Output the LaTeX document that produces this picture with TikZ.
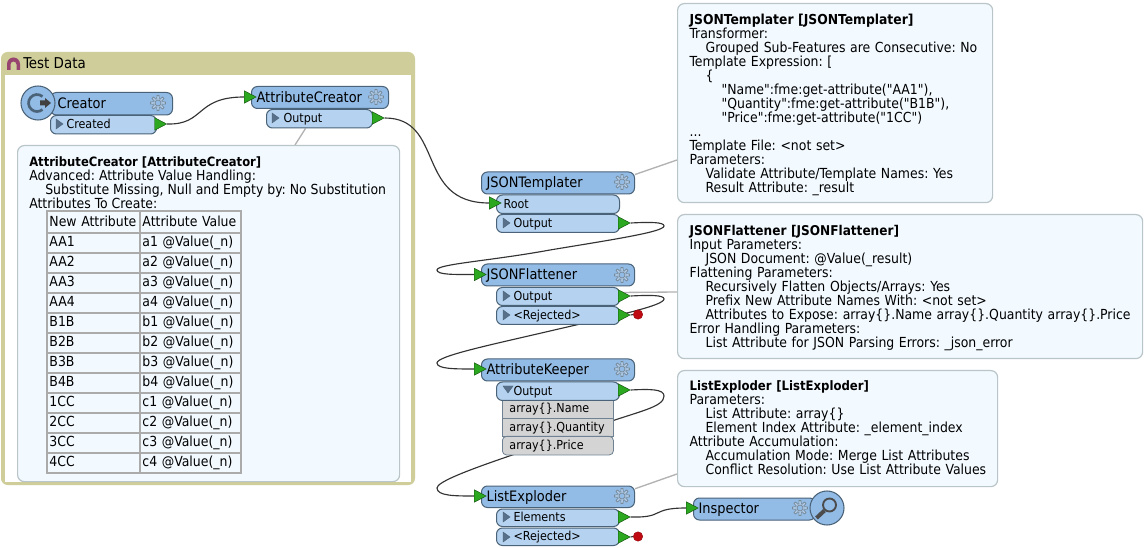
\documentclass[tikz,border=0pt]{standalone}
\usepackage{fontspec}
\setmainfont[Ligatures=TeXOff]{DejaVu Sans Condensed}
\usetikzlibrary{shapes.geometric,arrows.meta}
\pgfdeclarelayer{base}
\pgfdeclarelayer{wires}
\pgfsetlayers{base,wires,main}
\definecolor{hdrblue}{HTML}{92BBE6}
\definecolor{portblue}{HTML}{B5D3F0}
\definecolor{edgeblue}{HTML}{4A6378}
\definecolor{notefill}{HTML}{F3FAFF}
\definecolor{noteedge}{HTML}{B9C5C9}
\definecolor{olive}{HTML}{CFCE9A}
\definecolor{portgreen}{HTML}{2BA81F}
\definecolor{stopred}{HTML}{C00A12}
\newcommand{\notefont}{\fontsize{10.4}{10.5}\selectfont}
\newcommand{\notehead}[2][9.65]{\rule{0pt}{10.2pt}{\fontsize{#1}{10.5}\selectfont\bfseries #2}}
\tikzset{
  hdrbox/.style={draw=edgeblue,fill=hdrblue,line width=0.75pt,rounded corners=4.5pt,inner sep=0pt,align=left,
    font=\fontsize{10.8}{11}\selectfont,text height=8.4pt,text depth=1.6pt},
  portbox/.style={draw=edgeblue,fill=portblue,line width=0.75pt,rounded corners=4.5pt,inner sep=0pt,align=left,
    font=\fontsize{9.3}{9.3}\selectfont,text height=7.4pt,text depth=1.6pt},
  attrbox/.style={draw=edgeblue!80,fill=black!17,line width=0.6pt,inner sep=0pt,align=left,
    font=\fontsize{9.3}{9.3}\selectfont,text height=7.4pt,text depth=1.6pt},
  notebox/.style={draw=noteedge,fill=notefill,line width=0.9pt,rounded corners=5pt,inner sep=0pt,align=left,
    font=\notefont},
  cellbox/.style={draw=black!33,line width=1.2pt,inner sep=0pt,align=left,
    font=\notefont,text height=7.6pt,text depth=1.4pt},
  porttip/.style={isosceles triangle,isosceles triangle stretches,shape border rotate=0,draw=black!55!portgreen,
    line width=0.3pt,fill=portgreen,inner sep=0pt,minimum width=9.4pt,minimum height=9pt},
  stopdot/.style={circle,fill=stopred,draw=stopred!80!black,inner sep=0pt,minimum size=7pt},
  wire/.style={draw=black!80,line width=0.85pt},
  leader/.style={draw=black!30,line width=1pt},
  bigdisc/.style={circle,draw=edgeblue,fill=hdrblue,line width=0.8pt,inner sep=0pt,minimum size=25.5pt},
  expander/.style={fill=black!40!hdrblue,draw=edgeblue,line width=0.3pt}
}
% box with fixed pixel corners; the text starts at a given padding from its left side
\newcommand{\pxbox}[8][]{%
  \pgfmathsetmacro\boxw{(#6-#4)*0.75}\pgfmathsetmacro\boxh{(#7-#5)*0.75}%
  \node[#2,#1,anchor=north west,minimum width=\boxw pt,minimum height=\boxh pt,text width=\boxw pt] (#3) at (#4,#5) {#8};}
% settings wheel drawn from a radial profile
\newcommand{\wheel}[2]{%
  \draw[edgeblue!75,line width=0.55pt,fill=hdrblue!70!white] plot[domain=0:360,samples=97] ({#1+(5.9+1.6*max(-1,min(1,2*cos(8*\x))))*cos(\x)},{#2+(5.9+1.6*max(-1,min(1,2*cos(8*\x))))*sin(\x)}) -- cycle;
  \draw[edgeblue!75,line width=0.55pt,fill=hdrblue] (#1,#2) circle[radius=3];}
% closed or open marker in an output port
\newcommand{\closedmark}[2]{\path[expander] (#1,#2-5) -- (#1+7,#2) -- (#1,#2+5) -- cycle;}
\newcommand{\openmark}[2]{\path[expander] (#1-1,#2-4) -- (#1+9,#2-4) -- (#1+4,#2+3) -- cycle;}
\begin{document}
\frenchspacing
\begin{tikzpicture}[x=0.75pt,y=-0.75pt]
\useasboundingbox (0,0) rectangle (1145,548);

% bookmark frame
\begin{pgfonlayer}{base}
  \fill[white] (0,0) rectangle (1145,548);
  \fill[olive,rounded corners=5pt] (1,52) rectangle (415,485);
  \fill[white] (4.5,75) rectangle (411,481.5);
\end{pgfonlayer}
\node[anchor=west,inner sep=0pt,font=\fontsize{11.2}{11}\selectfont] (bmtitle) at (23,63.5) {Test Data};
\fill[black!45!magenta] (7,70) -- (7,64) arc[start angle=180,end angle=360,radius=6.5] -- (20,70) -- (16.5,70) -- (16.5,64.5) arc[start angle=360,end angle=180,radius=3] -- (10.5,70) -- cycle;

% Creator
\pxbox{hdrbox}{creator}{50}{92}{172}{114.5}{\hspace*{5.3pt}Creator}
\pxbox{portbox}{created}{50}{115}{156}{133.5}{\hspace*{12pt}Created}
\node[porttip] (createdtip) at (158.5,124) {};
\closedmark{56}{124}
\wheel{158}{103}
\node[bigdisc] (creatordisc) at (38,103) {};
\draw[edgeblue,line width=2pt] (42.5,96.5) arc[start angle=-50,end angle=-310,radius=8.5];
\fill[black!75] (40,100.5) -- (45,100.5) -- (45,98) -- (51,103) -- (45,108) -- (45,105.5) -- (40,105.5) -- cycle;

% AttributeCreator
\pxbox{hdrbox}{ac}{251}{86}{388}{108}{\hspace*{3.8pt}AttributeCreator}
\node[porttip] (acin) at (248,97) {};
\pxbox{portbox}{acout}{266}{109}{372}{127.5}{\hspace*{12.8pt}Output}
\node[porttip] (acouttip) at (376,118) {};
\closedmark{272}{118}
\wheel{376}{97}

% JSONTemplater
\pxbox{hdrbox}{jt}{481}{171.5}{634}{193.5}{\hspace*{3.8pt}JSONTemplater}
\pxbox{portbox}{jtroot}{496}{194.5}{619}{213}{\hspace*{5.3pt}Root}
\pxbox{portbox}{jtout}{496}{214}{619}{232}{\hspace*{12.8pt}Output}
\node[porttip] (jtin) at (493,203) {};
\node[porttip] (jtouttip) at (622,223) {};
\closedmark{503}{223}
\wheel{622}{182}

% JSONFlattener
\pxbox{hdrbox}{jf}{481}{263.5}{634}{285.5}{\hspace*{3.8pt}JSONFlattener}
\pxbox{portbox}{jfout}{496}{287}{619}{305}{\hspace*{12.8pt}Output}
\pxbox{portbox}{jfrej}{496}{306}{619}{324}{\hspace*{12.8pt}<Rejected>}
\node[porttip] (jfin) at (478,274.5) {};
\node[porttip] (jfouttip) at (622,296) {};
\node[porttip] (jfrejtip) at (622,315) {};
\node[stopdot] (jfstop) at (638,314.5) {};
\closedmark{503}{296}
\closedmark{503}{315}
\wheel{622}{275}

% AttributeKeeper
\pxbox{attrbox}{rowa}{502}{399}{613}{418}{\hspace*{5.3pt}array\{\}.Name}
\pxbox{attrbox}{rowb}{502}{418}{613}{436}{\hspace*{5.3pt}array\{\}.Quantity}
\pxbox[rounded corners=3pt]{attrbox}{rowc}{502}{436}{613}{454.5}{\hspace*{5.3pt}array\{\}.Price}
\pxbox{hdrbox}{ak}{481}{358.5}{634}{380.5}{\hspace*{3.8pt}AttributeKeeper}
\pxbox{portbox}{akout}{496}{381.5}{619}{400}{\hspace*{12.8pt}Output}
\node[porttip] (akin) at (478,369) {};
\node[porttip] (akouttip) at (622,390) {};
\openmark{504}{390}
\wheel{622}{369}

% ListExploder
\pxbox{hdrbox}{le}{481}{485.5}{634}{507}{\hspace*{3.8pt}ListExploder}
\pxbox{portbox}{leel}{496}{508.5}{619}{526}{\hspace*{12.8pt}Elements}
\pxbox{portbox}{lerej}{496}{527.5}{619}{545}{\hspace*{12.8pt}<Rejected>}
\node[porttip] (lein) at (478,496) {};
\node[porttip] (leeltip) at (622,517) {};
\node[porttip] (lerejtip) at (622,537) {};
\node[stopdot] (lestop) at (638,536.5) {};
\closedmark{503}{517}
\closedmark{503}{537}
\wheel{622}{496}

% Inspector
\pxbox{hdrbox}{insp}{693}{497.5}{815}{519.5}{\hspace*{3.8pt}Inspector}
\node[porttip] (inspin) at (690,508) {};
\wheel{800}{508}
\node[bigdisc] (inspdisc) at (827,508) {};
\draw[black!70,line width=1.4pt] (829.5,505) circle[radius=6.5];
\draw[black!70,line width=3pt] (824.5,510.5) -- (816.5,518);

% annotation boxes
\pxbox{notebox}{notecreator}{17}{145}{399}{481}{}
\node[anchor=north west,inner sep=0pt,align=left,font=\notefont] (notecreatortext) at (29,153) {%
  \notehead{AttributeCreator [AttributeCreator]}\\
  Advanced: Attribute Value Handling:\\
  \hspace*{12pt}Substitute Missing, Null and Empty by: No Substitution\\
  Attributes To Create:};
\pxbox{cellbox}{headname}{46}{210.5}{139}{232}{\hspace*{2pt}New Attribute}
\pxbox{cellbox}{headvalue}{139}{210.5}{240}{232}{\hspace*{2pt}Attribute Value}
\foreach \nm/\val [count=\i] in {AA1/a1,AA2/a2,AA3/a3,AA4/a4,B1B/b1,B2B/b2,B3B/b3,B4B/b4,1CC/c1,2CC/c2,3CC/c3,4CC/c4}{
  \pgfmathsetmacro\rowtop{232+(\i-1)*20}
  \pgfmathsetmacro\rowbot{232+\i*20}
  \pxbox{cellbox}{cellname\i}{46}{\rowtop}{139}{\rowbot}{\hspace*{2pt}\nm}
  \pxbox{cellbox}{cellvalue\i}{139}{\rowtop}{240}{\rowbot}{\hspace*{2pt}\val{} @Value(\_n)}
}

\pxbox{notebox}{notetemplater}{677}{3}{992}{202}{%
  \hspace*{9pt}\notehead[10.3]{JSONTemplater [JSONTemplater]}\\
  \hspace*{9pt}Transformer:\\
  \hspace*{21pt}Grouped Sub-Features are Consecutive: No\\
  \hspace*{9pt}Template Expression: [\\
  \hspace*{21pt}\{\\
  \hspace*{33pt}"Name":fme:get-attribute("AA1"),\\
  \hspace*{33pt}"Quantity":fme:get-attribute("B1B"),\\
  \hspace*{33pt}"Price":fme:get-attribute("1CC")\\
  \hspace*{9pt}...\\
  \hspace*{9pt}Template File: <not set>\\
  \hspace*{9pt}Parameters:\\
  \hspace*{21pt}Validate Attribute/Template Names: Yes\\
  \hspace*{21pt}Result Attribute: \_result}

\pxbox{notebox}{noteflattener}{677}{214}{1142}{358}{%
  \hspace*{9pt}\notehead[10.1]{JSONFlattener [JSONFlattener]}\\
  \hspace*{9pt}Input Parameters:\\
  \hspace*{21pt}JSON Document: @Value(\_result)\\
  \hspace*{9pt}Flattening Parameters:\\
  \hspace*{21pt}Recursively Flatten Objects/Arrays: Yes\\
  \hspace*{21pt}Prefix New Attribute Names With: <not set>\\
  \hspace*{21pt}Attributes to Expose: array\{\}.Name array\{\}.Quantity array\{\}.Price\\
  \hspace*{9pt}Error Handling Parameters:\\
  \hspace*{21pt}List Attribute for JSON Parsing Errors: \_json\_error}

\pxbox{notebox}{noteexploder}{677}{370}{997}{486}{%
  \hspace*{9pt}\notehead[9.75]{ListExploder [ListExploder]}\\
  \hspace*{9pt}Parameters:\\
  \hspace*{21pt}List Attribute: array\{\}\\
  \hspace*{21pt}Element Index Attribute: \_element\_index\\
  \hspace*{9pt}Attribute Accumulation:\\
  \hspace*{21pt}Accumulation Mode: Merge List Attributes\\
  \hspace*{21pt}Conflict Resolution: Use List Attribute Values\rule[-5pt]{0pt}{5pt}}

% connectors and annotation leaders, beneath the boxes
\begin{pgfonlayer}{wires}
  \draw[leader] (acout.south) ++(-14,0) -- (notecreator.north -| 295,0);
  \draw[leader] (jt.north east) ++(0,3) -- (notetemplater.west |- 0,160);
  \draw[leader] (jfout.east) ++(0,-4) -- (noteflattener.west |- 0,292);
  \draw[leader] (le.east) ++(0,-8) -- (noteexploder.west |- 0,474);
  \draw[wire] (createdtip.east) .. controls (205,125) and (195,97) .. (acin.west);
  \draw[wire] (acouttip.east) .. controls (445,118) and (415,203) .. (jtin.west);
  \draw[wire] (jtouttip.east) .. controls (650,222) and (664,222) .. (664,226)
     .. controls (664,232) and (610,240) .. (550,250)
     .. controls (490,261) and (437,264) .. (437,270)
     .. controls (437,275) and (455,274.5) .. (jfin.west);
  \draw[wire] (jfouttip.east) .. controls (650,295) and (664,295) .. (664,299)
     .. controls (664,306) and (610,317) .. (550,331)
     .. controls (490,345) and (437,356) .. (437,363)
     .. controls (437,369) and (455,369) .. (akin.west);
  \draw[wire] (jfrejtip.east) -- (jfstop.west);
  \draw[wire] (akouttip.east) .. controls (650,389) and (664,389) .. (664,396)
     .. controls (664,407) and (640,411) .. (600,425)
     .. controls (540,447) and (437,477) .. (437,488)
     .. controls (437,496) and (455,496) .. (lein.west);
  \draw[wire] (leeltip.east) .. controls (665,518) and (650,508) .. (inspin.west);
  \draw[wire] (lerejtip.east) -- (lestop.west);
\end{pgfonlayer}
\end{tikzpicture}
\end{document}
